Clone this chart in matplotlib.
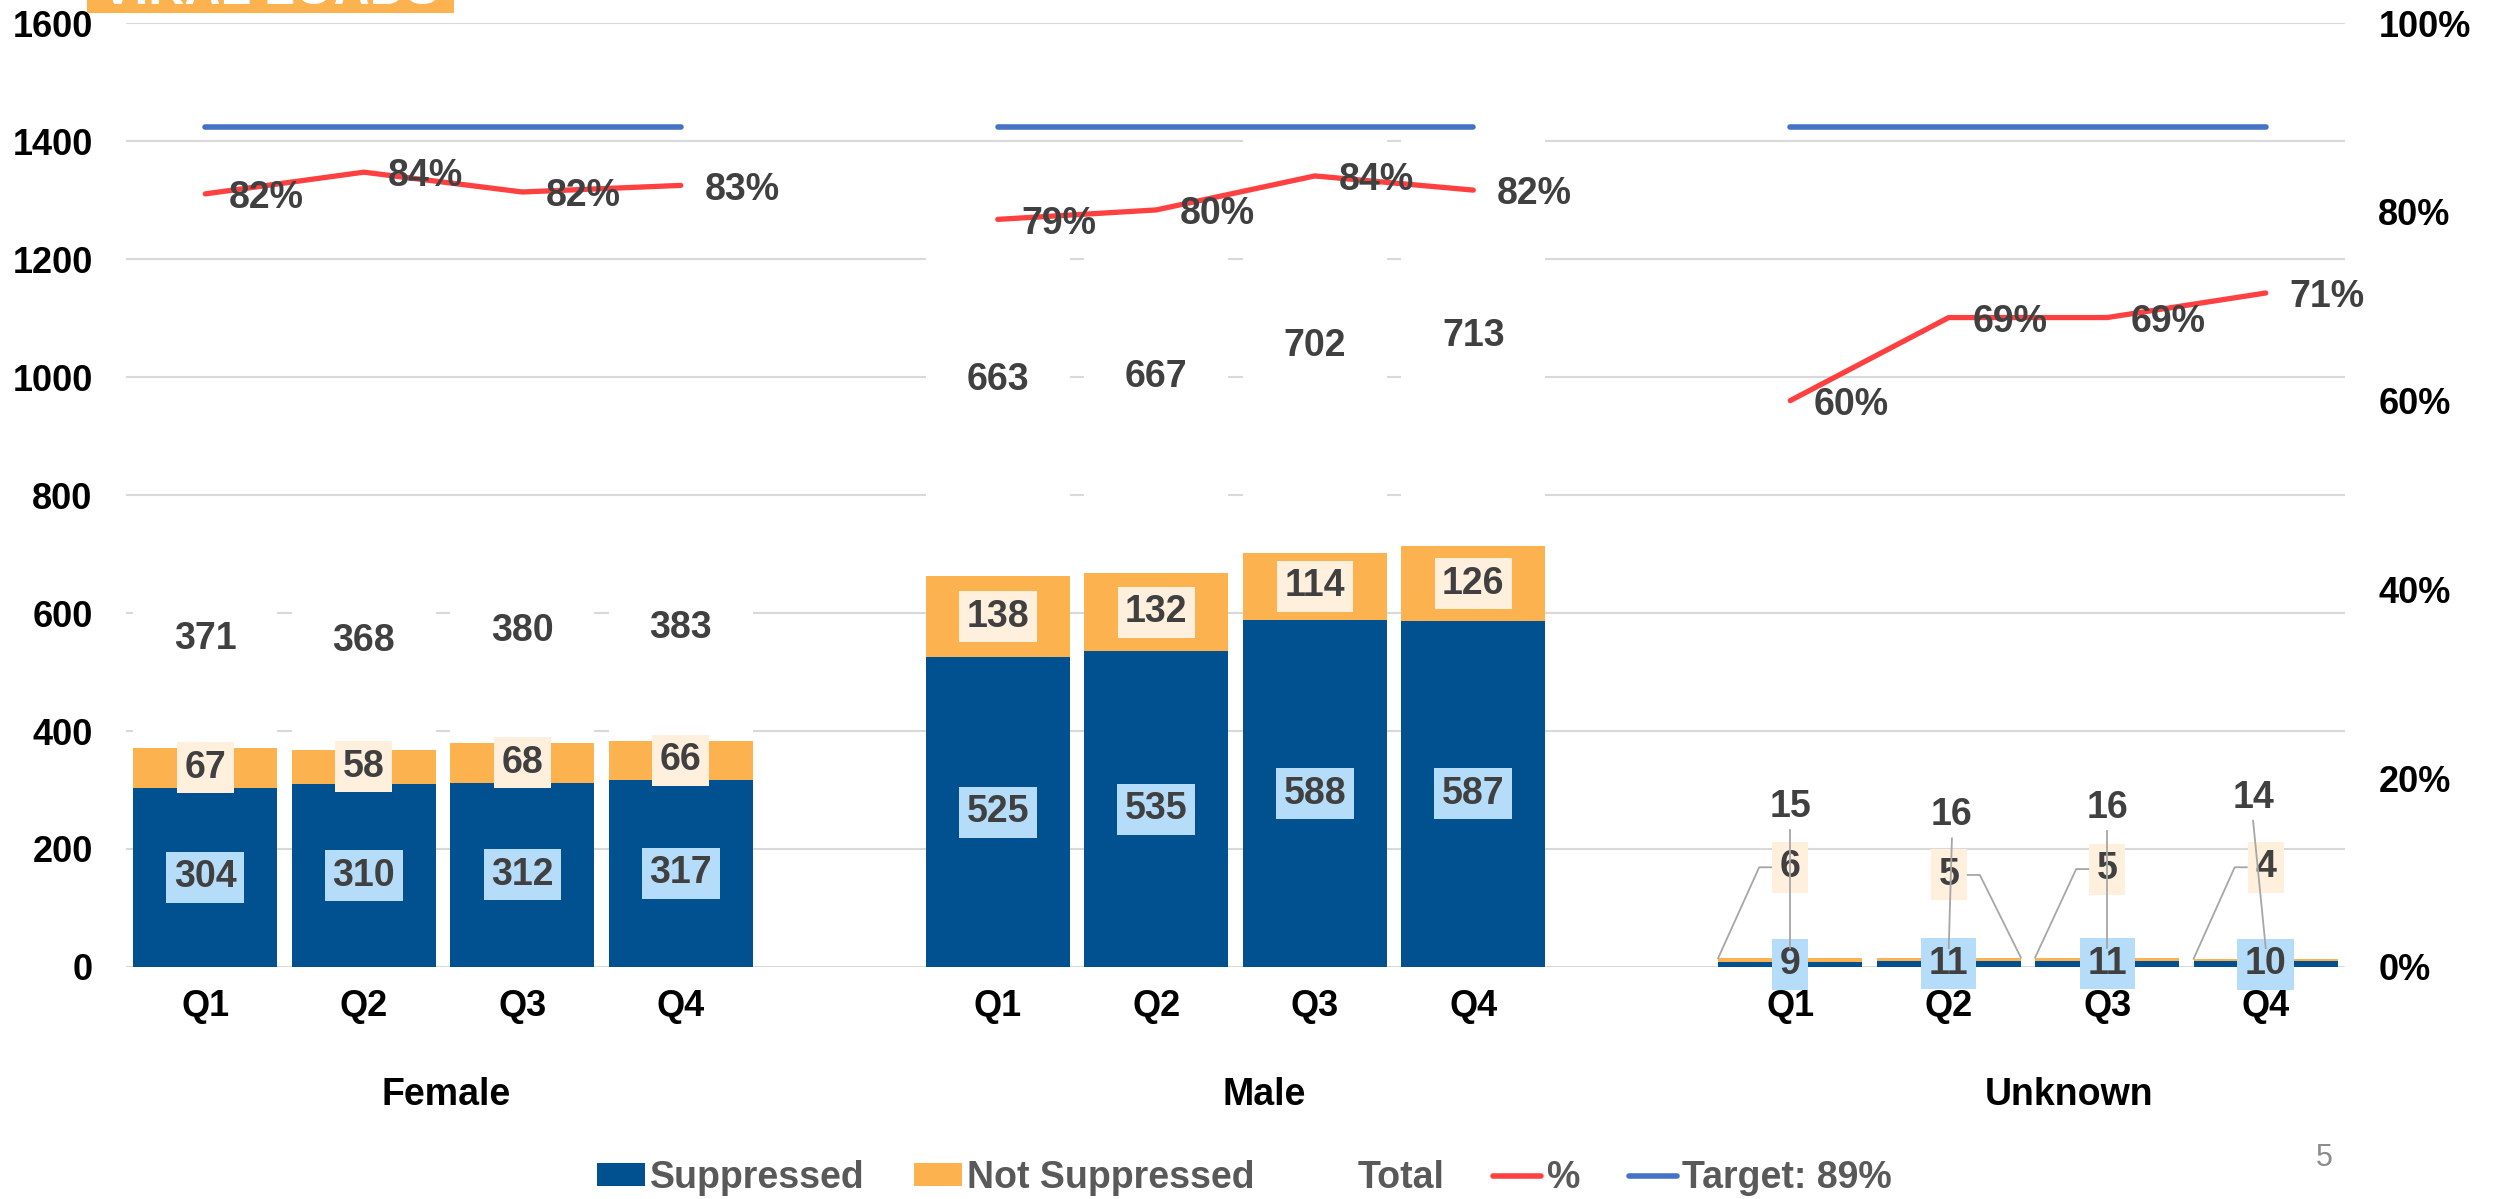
import matplotlib.pyplot as plt
import matplotlib.transforms as mtransforms
from matplotlib.patches import Patch, Rectangle
from matplotlib.lines import Line2D

plt.rcParams['font.family'] = ['Liberation Sans', 'DejaVu Sans']
plt.rcParams['font.weight'] = 'bold'

groups = ["Female", "Male", "Unknown"]
quarters = ["Q1", "Q2", "Q3", "Q4"]
suppressed = [304, 310, 312, 317, 525, 535, 588, 587, 9, 11, 11, 10]
not_suppressed = [67, 58, 68, 66, 138, 132, 114, 126, 6, 5, 5, 4]
total = [371, 368, 380, 383, 663, 667, 702, 713, 15, 16, 16, 14]
pct = [81.9, 84.2, 82.1, 82.8, 79.2, 80.2, 83.8, 82.3, 60.0, 68.8, 68.8, 71.4]
target = 89

# colours
C_SUP = "#01508F"
C_NSUP = "#FCB24E"
C_SUP_BOX = "#B5DCF9"
C_NSUP_BOX = "#FEF0DC"
C_RED = "#FF4040"
C_TARGET = "#4472C4"
C_GRID = "#D9D9D9"
C_LBL = "#404040"
C_LEAD = "#A6A6A6"

# slot positions: 4 quarters per group, one empty slot between groups
xpos = [g * 5 + q for g in range(len(groups)) for q in range(len(quarters))]
W = 0.91

fig = plt.figure(figsize=(24.96, 11.99), dpi=100)
ax = fig.add_axes([0.0505, 0.1935, 0.889, 0.7873])

bottom2 = [s + n for s, n in zip(suppressed, not_suppressed)]
ax.bar(xpos, suppressed, width=W, color=C_SUP, zorder=2)
ax.bar(xpos, not_suppressed, width=W, bottom=suppressed, color=C_NSUP, zorder=2)
ax.bar(xpos, total, width=W, bottom=bottom2, color="white", zorder=2)

ax.set_xlim(-0.5, 13.5)
ax.set_ylim(0, 1600)
ax.set_yticks(range(0, 1601, 200))
ax.yaxis.grid(True, color=C_GRID, lw=1.5)
ax.set_axisbelow(True)
for s in ax.spines.values():
    s.set_visible(False)
ax.set_xticks(xpos)
ax.set_xticklabels(quarters * len(groups))
ax.tick_params(axis='both', length=0, labelsize=26, labelcolor='black')
ax.tick_params(axis='y', pad=24)
ax.tick_params(axis='x', pad=16)

# group labels
trans = mtransforms.blended_transform_factory(ax.transData, ax.transAxes)
group_x = [1.52, 6.68, 11.76]
for gx, name in zip(group_x, groups):
    ax.text(gx, -0.136, name, transform=trans, ha='center', va='center',
            fontsize=27, color='black')

lbl_kw = dict(ha='center', va='center', fontsize=27, color=C_LBL, zorder=6)

# Female / Male: labels centered in each stacked segment
for i in range(8):
    x = xpos[i]
    ax.text(x, suppressed[i] / 2, str(suppressed[i]),
            bbox=dict(boxstyle='square,pad=0.2', fc=C_SUP_BOX, ec='none'), **lbl_kw)
    ax.text(x, suppressed[i] + not_suppressed[i] / 2, str(not_suppressed[i]),
            bbox=dict(boxstyle='square,pad=0.2', fc=C_NSUP_BOX, ec='none'), **lbl_kw)
    ax.text(x, bottom2[i] + total[i] / 2, str(total[i]), **lbl_kw)

# Unknown: labels moved out with leader lines
nsup_y = [169, 156, 166, 169]
nsup_side = [-1, 1, -1, -1]
tot_y = [271, 257, 269, 287]
tot_dx = [0.0, 0.02, 0.0, -0.08]
for k in range(4):
    i = 8 + k
    x = xpos[i]
    ax.text(x, suppressed[i] / 2, str(suppressed[i]),
            bbox=dict(boxstyle='square,pad=0.2', fc=C_SUP_BOX, ec='none'), **lbl_kw)
    ax.text(x, nsup_y[k], str(not_suppressed[i]),
            bbox=dict(boxstyle='square,pad=0.2', fc=C_NSUP_BOX, ec='none'), **lbl_kw)
    ax.text(x + tot_dx[k], tot_y[k], str(total[i]), **lbl_kw)
    sd = nsup_side[k]
    ax.plot([x + sd * 0.12, x + sd * 0.196, x + sd * W / 2],
            [nsup_y[k], nsup_y[k], bottom2[i]], color=C_LEAD, lw=1.3, zorder=7)
    ax.plot([x + tot_dx[k], x], [tot_y[k] - 39, 32], color=C_LEAD, lw=1.3, zorder=7)

# secondary axis: % and target
ax2 = ax.twinx()
ax2.set_ylim(0, 100)
ax2.set_yticks(range(0, 101, 20))
ax2.set_yticklabels([f"{v}%" for v in range(0, 101, 20)])
ax2.tick_params(axis='y', length=0, labelsize=26, labelcolor='black', pad=24)
for s in ax2.spines.values():
    s.set_visible(False)

for g in range(len(groups)):
    gx = xpos[g * 4:(g + 1) * 4]
    gp = pct[g * 4:(g + 1) * 4]
    ax2.plot([gx[0], gx[-1]], [target, target], color=C_TARGET, lw=4,
             solid_capstyle='round', zorder=3)
    ax2.plot(gx, gp, color=C_RED, lw=3.8, solid_capstyle='round', zorder=3)
    for x, p in zip(gx, gp):
        ax2.annotate(f"{p:.0f}%", (x, p), xytext=(17, -3), textcoords='offset points',
                     ha='left', va='center', fontsize=27, color=C_LBL, zorder=6)

# legend
handles = [Patch(fc=C_SUP, ec='none'), Patch(fc=C_NSUP, ec='none'),
           Patch(fc='white', ec='none'),
           Line2D([], [], color=C_RED, lw=4, solid_capstyle='round'),
           Line2D([], [], color=C_TARGET, lw=4, solid_capstyle='round')]
labels = ["Suppressed", "Not Suppressed", "Total", "%", f"Target: {target}%"]
fig.legend(handles, labels, loc='center', bbox_to_anchor=(0.4985, 0.0175), ncol=5,
           frameon=False, prop={'size': 27, 'weight': 'bold'}, labelcolor='#595959',
           handlelength=1.28, handleheight=0.55, handletextpad=0.15, columnspacing=1.3)

# cut-off title banner and page number
fig.patches.append(Rectangle((87 / 2496, 1 - 13 / 1199), 367 / 2496, 13 / 1199,
                             transform=fig.transFigure, fc=C_NSUP, ec='none'))
fig.text(270 / 2496, 1 - 4 / 1199, "VIRAL LOADS", ha='center', va='baseline',
         fontsize=36, color='white')
fig.text(2324 / 2496, 1 - 1158 / 1199, "5", ha='center', va='center', fontsize=22,
         weight='normal', color='#8C8C8C')

fig.savefig("out.png", dpi=100)
